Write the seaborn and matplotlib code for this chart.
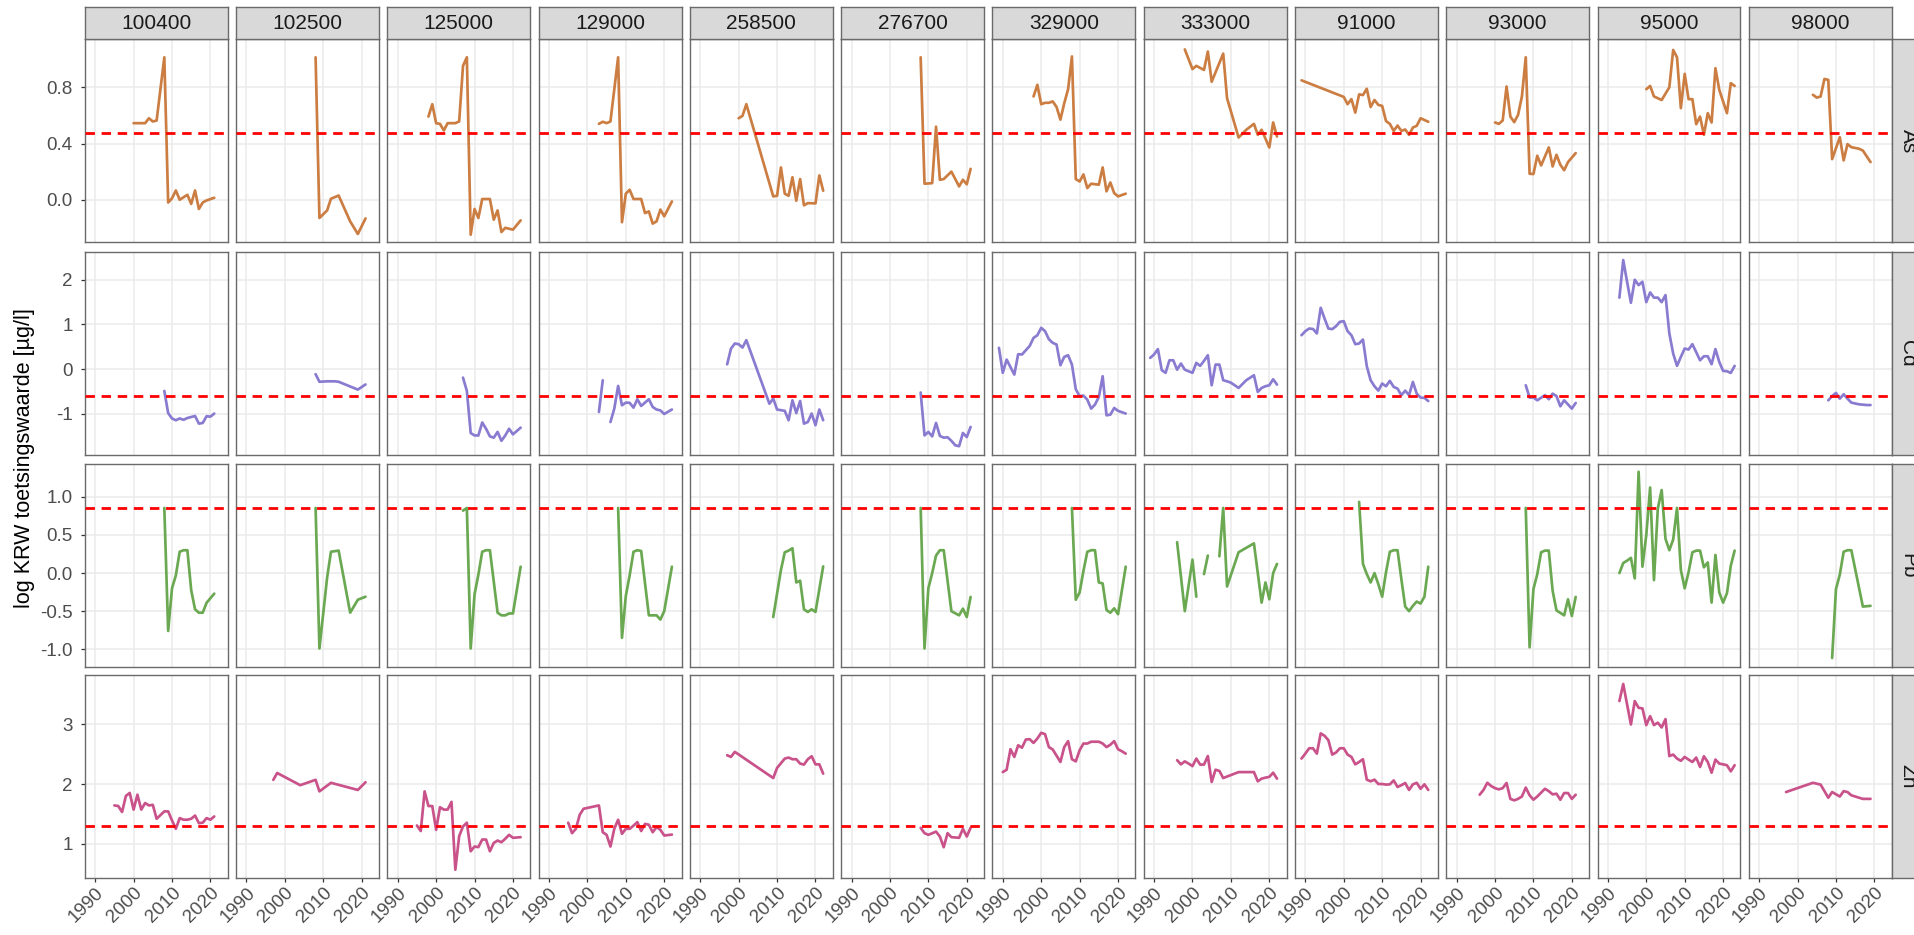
import numpy as np
import pandas as pd
import matplotlib
matplotlib.use("Agg")
import matplotlib.pyplot as plt
import seaborn as sns

nan = float("nan")

# ---- facets, norms and labels ------------------------------------------
stations = ["100400", "102500", "125000", "129000", "258500", "276700",
            "329000", "333000", "91000", "93000", "95000", "98000"]
metalen = ["As", "Cd", "Pb", "Zn"]
toetsingswaarde = [3.0, 0.25, 7.2, 20.0]          # KRW toetsingswaarde, µg/l
lijnkleuren = ["#CB7D42", "#8A7BD1", "#6BA852", "#C9528A"]
jaar_ticks = [1990, 2000, 2010, 2020]
jaar_labels = ["1990", "2000", "2010", "2020"]
y_ticks = [[0.0, 0.4, 0.8], [-1, 0, 1, 2], [-1.0, -0.5, 0.0, 0.5, 1.0], [1, 2, 3]]
y_labels = [["0.0", "0.4", "0.8"], ["-1", "0", "1", "2"],
            ["-1.0", "-0.5", "0.0", "0.5", "1.0"], ["1", "2", "3"]]
y_titel = "log KRW toetsingswaarde [µg/l]"

# ---- As (log µg/l) -------------------------------------------------------
as_100400_jr = [2000, 2001, 2002, 2003, 2004, 2005, 2006, 2008, 2009, 2010, 2011, 2012, 2014, 2015, 2016, 2017, 2018, 2019, 2021]
as_100400_log = [0.545, 0.545, 0.545, 0.545, 0.58, 0.557, 0.564, 1.014, -0.02, 0.01, 0.066, 0.0, 0.035, -0.03, 0.066, -0.066, -0.02, -0.005, 0.014]
as_102500_jr = [2008, 2009, 2011, 2012, 2014, 2017, 2019, 2021]
as_102500_log = [1.014, -0.13, -0.076, 0.007, 0.03, -0.154, -0.244, -0.133]
as_125000_jr = [1998, 1999, 2000, 2001, 2002, 2003, 2005, 2006, 2007, 2008, 2009, 2010, 2011, 2012, 2014, 2015, 2016, 2017, 2018, 2020, 2022]
as_125000_log = [0.592, 0.68, 0.545, 0.54, 0.493, 0.545, 0.545, 0.557, 0.953, 1.014, -0.249, -0.066, -0.13, 0.005, 0.005, -0.142, -0.076, -0.23, -0.2, -0.213, -0.147]
as_129000_jr = [2003, 2004, 2005, 2006, 2008, 2009, 2010, 2011, 2012, 2014, 2015, 2016, 2017, 2018, 2019, 2020, 2022]
as_129000_log = [0.54, 0.555, 0.545, 0.557, 1.014, -0.16, 0.043, 0.071, 0.005, 0.005, -0.095, -0.083, -0.17, -0.154, -0.07, -0.118, -0.012]
as_258500_jr = [2000, 2001, 2002, 2009, 2010, 2011, 2012, 2013, 2014, 2015, 2016, 2017, 2018, 2020, 2021, 2022]
as_258500_log = [0.58, 0.597, 0.68, 0.024, 0.028, 0.23, 0.043, 0.028, 0.16, -0.007, 0.147, -0.04, -0.024, -0.026, 0.173, 0.064]
as_276700_jr = [2008, 2009, 2011, 2012, 2013, 2014, 2016, 2018, 2019, 2020, 2021]
as_276700_log = [1.014, 0.114, 0.118, 0.52, 0.142, 0.147, 0.2, 0.095, 0.142, 0.11, 0.22]
as_329000_jr = [1998, 1999, 2000, 2001, 2002, 2003, 2004, 2005, 2006, 2007, 2008, 2009, 2010, 2011, 2012, 2013, 2015, 2016, 2017, 2018, 2019, 2020, 2022]
as_329000_log = [0.735, 0.818, 0.68, 0.69, 0.69, 0.7, 0.66, 0.57, 0.687, 0.787, 1.02, 0.147, 0.13, 0.18, 0.083, 0.114, 0.107, 0.23, 0.06, 0.123, 0.047, 0.024, 0.043]
as_333000_jr = [1998, 2000, 2001, 2003, 2004, 2005, 2008, 2009, 2012, 2013, 2014, 2016, 2017, 2018, 2020, 2021, 2022]
as_333000_log = [1.07, 0.93, 0.953, 0.924, 1.055, 0.84, 1.04, 0.723, 0.443, 0.47, 0.498, 0.54, 0.462, 0.498, 0.372, 0.55, 0.45]
as_91000_jr = [1989, 2000, 2001, 2002, 2003, 2004, 2005, 2006, 2007, 2008, 2009, 2010, 2011, 2012, 2013, 2014, 2015, 2016, 2017, 2018, 2019, 2020, 2022]
as_91000_log = [0.85, 0.732, 0.68, 0.716, 0.62, 0.75, 0.745, 0.79, 0.66, 0.71, 0.675, 0.668, 0.56, 0.54, 0.49, 0.528, 0.49, 0.5, 0.462, 0.514, 0.526, 0.58, 0.555]
as_93000_jr = [2000, 2001, 2002, 2003, 2004, 2005, 2006, 2007, 2008, 2009, 2010, 2011, 2012, 2014, 2015, 2016, 2017, 2018, 2019, 2021]
as_93000_log = [0.55, 0.54, 0.564, 0.806, 0.592, 0.552, 0.604, 0.735, 1.014, 0.185, 0.183, 0.313, 0.244, 0.372, 0.237, 0.32, 0.249, 0.21, 0.268, 0.332]
as_95000_jr = [2000, 2001, 2002, 2004, 2006, 2007, 2008, 2009, 2010, 2011, 2012, 2013, 2014, 2015, 2016, 2017, 2018, 2019, 2021, 2022, 2023]
as_95000_log = [0.787, 0.81, 0.735, 0.71, 0.8, 1.066, 1.014, 0.652, 0.896, 0.716, 0.716, 0.538, 0.592, 0.462, 0.616, 0.55, 0.936, 0.782, 0.616, 0.83, 0.81]
as_98000_jr = [2004, 2005, 2006, 2007, 2008, 2009, 2010, 2011, 2012, 2013, 2014, 2016, 2017, 2019]
as_98000_log = [0.747, 0.727, 0.735, 0.86, 0.853, 0.289, 0.367, 0.445, 0.28, 0.396, 0.374, 0.363, 0.35, 0.268]

# ---- Cd (log µg/l) -------------------------------------------------------
cd_100400_jr = [2008, 2009, 2010, 2011, 2012, 2013, 2014, 2016, 2017, 2018, 2019, 2020, 2021]
cd_100400_log = [-0.485, -0.98, -1.1, -1.14, -1.1, -1.13, -1.09, -1.045, -1.216, -1.2, -1.05, -1.06, -0.99]
cd_102500_jr = [2008, 2009, 2011, 2013, 2014, 2019, 2021]
cd_102500_log = [-0.11, -0.28, -0.27, -0.27, -0.28, -0.455, -0.34]
cd_125000_jr = [2007, 2008, 2009, 2010, 2011, 2012, 2013, 2014, 2015, 2016, 2017, 2018, 2019, 2020, 2022]
cd_125000_log = [-0.187, -0.485, -1.425, -1.48, -1.48, -1.19, -1.33, -1.5, -1.53, -1.4, -1.6, -1.48, -1.33, -1.455, -1.306]
cd_129000_jr = [2003, 2004, 2005, 2006, 2007, 2008, 2009, 2010, 2011, 2012, 2013, 2014, 2016, 2017, 2018, 2019, 2020, 2022]
cd_129000_log = [-0.955, -0.246, nan, -1.18, -0.88, -0.373, -0.806, -0.746, -0.75, -0.858, -0.67, -0.82, -0.67, -0.843, -0.9, -0.92, -1.0, -0.9]
cd_258500_jr = [1997, 1998, 1999, 2000, 2001, 2002, 2008, 2009, 2010, 2012, 2013, 2014, 2015, 2016, 2017, 2018, 2019, 2020, 2021, 2022]
cd_258500_log = [0.11, 0.46, 0.575, 0.56, 0.485, 0.65, -0.77, -0.657, -0.9, -0.93, -1.14, -0.694, -0.98, -0.71, -1.216, -1.18, -0.99, -1.25, -0.9, -1.14]
cd_276700_jr = [2008, 2009, 2010, 2011, 2012, 2013, 2014, 2015, 2016, 2017, 2018, 2019, 2020, 2021]
cd_276700_log = [-0.52, -1.48, -1.4, -1.5, -1.2, -1.49, -1.53, -1.52, -1.6, -1.7, -1.72, -1.425, -1.515, -1.29]
cd_329000_jr = [1989, 1990, 1991, 1993, 1994, 1995, 1996, 1997, 1998, 1999, 2000, 2001, 2002, 2003, 2004, 2005, 2006, 2007, 2008, 2009, 2010, 2011, 2012, 2013, 2014, 2015, 2016, 2017, 2018, 2019, 2020, 2022]
cd_329000_log = [0.478, -0.08, 0.216, -0.12, 0.336, 0.33, 0.425, 0.52, 0.7, 0.76, 0.925, 0.85, 0.67, 0.59, 0.552, 0.09, 0.276, 0.313, 0.104, -0.448, -0.6, -0.59, -0.68, -0.88, -0.79, -0.62, -0.157, -1.03, -1.015, -0.866, -0.93, -0.99]
cd_333000_jr = [1989, 1990, 1991, 1992, 1993, 1994, 1995, 1996, 1997, 1998, 1999, 2000, 2001, 2002, 2003, 2004, 2005, 2006, 2007, 2008, 2009, 2010, 2012, 2014, 2016, 2017, 2018, 2019, 2020, 2021, 2022]
cd_333000_log = [0.254, 0.33, 0.45, -0.02, -0.08, 0.2, 0.2, -0.01, 0.127, -0.01, -0.045, -0.08, 0.142, 0.075, 0.187, 0.313, -0.358, 0.104, 0.104, -0.246, -0.27, -0.3, -0.418, -0.246, -0.134, -0.507, -0.418, -0.38, -0.358, -0.224, -0.343]
cd_91000_jr = list(range(1989, 2023))
cd_91000_log = [0.76, 0.85, 0.91, 0.9, 0.8, 1.373, 1.134, 0.91, 0.896, 0.963, 1.06, 1.075, 0.85, 0.76, 0.56, 0.575, 0.664, 0.067, -0.246, -0.38, -0.478, -0.32, -0.38, -0.26, -0.395, -0.433, -0.58, -0.478, -0.58, -0.284, -0.545, -0.634, -0.64, -0.71]
cd_93000_jr = [2008, 2009, 2010, 2011, 2013, 2014, 2015, 2016, 2017, 2018, 2020, 2021]
cd_93000_log = [-0.358, -0.634, -0.63, -0.694, -0.58, -0.67, -0.545, -0.6, -0.828, -0.694, -0.88, -0.754]
cd_95000_jr = [1993, 1994, 1995, 1996, 1997, 1998, 1999, 2000, 2001, 2002, 2003, 2004, 2005, 2006, 2007, 2008, 2009, 2010, 2011, 2012, 2014, 2015, 2016, 2017, 2018, 2019, 2020, 2021, 2022, 2023]
cd_95000_log = [1.6, 2.44, 1.955, 1.485, 2.0, 1.88, 1.955, 1.5, 1.716, 1.6, 1.6, 1.5, 1.657, 0.8, 0.35, 0.075, 0.276, 0.463, 0.44, 0.56, 0.2, 0.29, 0.29, 0.112, 0.45, 0.164, -0.037, -0.045, -0.082, 0.075]
cd_98000_jr = [2008, 2009, 2010, 2011, 2012, 2013, 2014, 2016, 2018, 2019]
cd_98000_log = [-0.694, -0.6, -0.53, -0.657, -0.56, -0.657, -0.746, -0.784, -0.8, -0.8]

# ---- Pb (log µg/l) -------------------------------------------------------
pb_100400_jr = [2008, 2009, 2010, 2011, 2012, 2013, 2014, 2015, 2016, 2017, 2018, 2019, 2021]
pb_100400_log = [0.855, -0.76, -0.2, -0.03, 0.28, 0.3, 0.3, -0.225, -0.476, -0.52, -0.52, -0.39, -0.27]
pb_102500_jr = [2008, 2009, 2011, 2012, 2014, 2017, 2019, 2021]
pb_102500_log = [0.855, -0.99, -0.06, 0.28, 0.295, -0.52, -0.35, -0.31]
pb_125000_jr = [2007, 2008, 2009, 2010, 2011, 2012, 2013, 2014, 2016, 2017, 2018, 2019, 2020, 2022]
pb_125000_log = [0.82, 0.855, -0.99, -0.28, -0.02, 0.28, 0.3, 0.3, -0.52, -0.555, -0.555, -0.53, -0.53, 0.084]
pb_129000_jr = [2008, 2009, 2010, 2011, 2012, 2013, 2014, 2016, 2018, 2019, 2020, 2022]
pb_129000_log = [0.855, -0.85, -0.3, -0.03, 0.28, 0.3, 0.29, -0.555, -0.555, -0.61, -0.5, 0.084]
pb_258500_jr = [2009, 2011, 2012, 2013, 2014, 2015, 2016, 2017, 2018, 2019, 2020, 2022]
pb_258500_log = [-0.577, 0.04, 0.273, 0.295, 0.326, -0.123, -0.1, -0.476, -0.51, -0.476, -0.51, 0.088]
pb_276700_jr = [2008, 2009, 2010, 2011, 2012, 2013, 2014, 2016, 2018, 2019, 2020, 2021]
pb_276700_log = [0.855, -0.99, -0.2, 0.0, 0.23, 0.3, 0.3, -0.5, -0.555, -0.467, -0.577, -0.313]
pb_329000_jr = [2008, 2009, 2010, 2011, 2012, 2013, 2014, 2015, 2016, 2017, 2018, 2019, 2020, 2022]
pb_329000_log = [0.855, -0.35, -0.255, 0.03, 0.28, 0.3, 0.3, -0.123, -0.137, -0.485, -0.52, -0.463, -0.54, 0.084]
pb_333000_jr = [1996, 1998, 2000, 2001, 2002, 2003, 2004, 2005, 2007, 2008, 2009, 2012, 2016, 2018, 2019, 2020, 2021, 2022]
pb_333000_log = [0.405, -0.5, 0.176, -0.31, nan, -0.013, 0.23, nan, 0.22, 0.855, -0.176, 0.273, 0.39, -0.388, -0.123, -0.344, 0.0, 0.12]
pb_91000_jr = list(range(2004, 2023))
pb_91000_log = [0.934, 0.12, -0.013, -0.123, 0.0, -0.145, -0.31, 0.01, 0.28, 0.3, 0.3, -0.08, -0.44, -0.5, -0.43, -0.374, -0.4, -0.31, 0.084]
pb_93000_jr = [2008, 2009, 2010, 2011, 2012, 2013, 2014, 2015, 2016, 2018, 2019, 2020, 2021]
pb_93000_log = [0.855, -0.974, -0.21, -0.013, 0.273, 0.295, 0.295, -0.233, -0.49, -0.555, -0.344, -0.564, -0.313]
pb_95000_jr = list(range(1993, 2024))
pb_95000_log = [0.0, 0.132, 0.163, 0.2, -0.07, 1.33, 0.084, 0.5, 1.123, -0.093, 0.846, 1.09, 0.45, 0.3, 0.44, 0.855, 0.04, -0.2, 0.01, 0.273, 0.295, 0.295, 0.075, 0.14, -0.388, 0.238, -0.255, -0.388, -0.264, 0.097, 0.295]
pb_98000_jr = [2009, 2010, 2011, 2012, 2013, 2014, 2017, 2019]
pb_98000_log = [-1.115, -0.21, -0.02, 0.28, 0.3, 0.3, -0.44, -0.43]

# ---- Zn (log µg/l) -------------------------------------------------------
zn_100400_jr = [1995, 1996, 1997, 1998, 1999, 2000, 2001, 2002, 2003, 2004, 2005, 2006, 2008, 2009, 2010, 2011, 2012, 2013, 2014, 2015, 2016, 2017, 2018, 2019, 2020, 2021]
zn_100400_log = [1.64, 1.63, 1.53, 1.8, 1.85, 1.57, 1.82, 1.57, 1.68, 1.64, 1.65, 1.416, 1.54, 1.54, 1.388, 1.247, 1.427, 1.4, 1.4, 1.416, 1.47, 1.343, 1.35, 1.427, 1.4, 1.455]
zn_102500_jr = [1997, 1998, 2004, 2008, 2009, 2012, 2019, 2021]
zn_102500_log = [2.07, 2.185, 1.98, 2.07, 1.876, 2.02, 1.9, 2.03]
zn_125000_jr = [1995, 1996, 1997, 1998, 1999, 2000, 2001, 2002, 2003, 2004, 2005, 2006, 2007, 2008, 2009, 2010, 2011, 2012, 2013, 2014, 2015, 2016, 2017, 2018, 2019, 2020, 2022]
zn_125000_log = [1.303, 1.21, 1.876, 1.63, 1.63, 1.23, 1.61, 1.57, 1.57, 1.7, 0.56, 1.124, 1.287, 1.35, 0.87, 0.95, 0.94, 1.067, 1.067, 0.87, 1.01, 1.05, 1.022, 1.08, 1.146, 1.096, 1.107]
zn_129000_jr = [1995, 1996, 1997, 1998, 1999, 2003, 2004, 2005, 2006, 2007, 2008, 2009, 2010, 2011, 2012, 2013, 2014, 2015, 2016, 2017, 2018, 2019, 2020, 2022]
zn_129000_log = [1.35, 1.174, 1.247, 1.483, 1.584, 1.64, 1.19, 1.146, 0.95, 1.247, 1.4, 1.163, 1.247, 1.247, 1.3, 1.36, 1.21, 1.33, 1.315, 1.19, 1.275, 1.23, 1.135, 1.15]
zn_258500_jr = [1997, 1998, 1999, 2009, 2010, 2012, 2013, 2014, 2015, 2016, 2017, 2018, 2019, 2020, 2021, 2022]
zn_258500_log = [2.483, 2.455, 2.54, 2.1, 2.27, 2.427, 2.444, 2.416, 2.416, 2.343, 2.326, 2.416, 2.466, 2.33, 2.33, 2.174]
zn_276700_jr = [2008, 2009, 2010, 2012, 2013, 2014, 2015, 2016, 2018, 2019, 2020, 2021]
zn_276700_log = [1.264, 1.174, 1.146, 1.2, 1.118, 0.938, 1.174, 1.107, 1.096, 1.247, 1.118, 1.264]
zn_329000_jr = [1990, 1991, 1992, 1993, 1994, 1995, 1996, 1997, 1998, 1999, 2000, 2001, 2002, 2003, 2005, 2006, 2007, 2008, 2009, 2010, 2011, 2012, 2013, 2015, 2016, 2017, 2018, 2019, 2020, 2021, 2022]
zn_329000_log = [2.2, 2.24, 2.584, 2.455, 2.65, 2.61, 2.747, 2.753, 2.69, 2.764, 2.86, 2.837, 2.62, 2.58, 2.37, 2.62, 2.72, 2.416, 2.38, 2.567, 2.68, 2.68, 2.71, 2.71, 2.68, 2.62, 2.66, 2.72, 2.584, 2.55, 2.51]
zn_333000_jr = [1996, 1997, 1998, 1999, 2000, 2001, 2002, 2003, 2004, 2005, 2006, 2007, 2008, 2012, 2016, 2017, 2018, 2019, 2020, 2021, 2022]
zn_333000_log = [2.4, 2.33, 2.38, 2.343, 2.3, 2.427, 2.326, 2.326, 2.47, 2.034, 2.24, 2.22, 2.1, 2.2, 2.2, 2.045, 2.09, 2.107, 2.12, 2.19, 2.09]
zn_91000_jr = list(range(1989, 2023))
zn_91000_log = [2.427, 2.51, 2.6, 2.6, 2.51, 2.85, 2.81, 2.736, 2.494, 2.53, 2.6, 2.6, 2.494, 2.455, 2.33, 2.37, 2.416, 2.073, 2.045, 2.073, 2.0, 2.0, 1.99, 1.994, 2.06, 1.95, 1.98, 2.017, 1.9, 1.994, 2.02, 1.92, 1.994, 1.9]
zn_93000_jr = [1996, 1997, 1998, 1999, 2000, 2001, 2002, 2003, 2004, 2005, 2006, 2007, 2008, 2009, 2010, 2011, 2013, 2014, 2015, 2016, 2017, 2018, 2019, 2020, 2021]
zn_93000_log = [1.82, 1.9, 2.02, 1.966, 1.93, 1.91, 1.93, 2.017, 1.75, 1.725, 1.75, 1.79, 1.94, 1.81, 1.736, 1.79, 1.92, 1.88, 1.826, 1.837, 1.736, 1.848, 1.848, 1.75, 1.82]
zn_95000_jr = list(range(1993, 2024))
zn_95000_log = [3.393, 3.68, 3.337, 3.0, 3.393, 3.28, 3.27, 2.99, 3.14, 2.99, 3.03, 2.95, 3.09, 2.47, 2.494, 2.427, 2.39, 2.455, 2.41, 2.37, 2.444, 2.286, 2.466, 2.37, 2.19, 2.41, 2.343, 2.33, 2.315, 2.213, 2.315]
zn_98000_jr = [1997, 2004, 2006, 2008, 2009, 2011, 2012, 2013, 2014, 2016, 2017, 2019]
zn_98000_log = [1.865, 2.02, 1.99, 1.77, 1.865, 1.79, 1.88, 1.865, 1.81, 1.77, 1.75, 1.75]


# ---- long table; a missing value splits a series into separate segments --
records = []
for metaal in metalen:
    for station in stations:
        jaren = globals()[f"{metaal.lower()}_{station}_jr"]
        waarden = globals()[f"{metaal.lower()}_{station}_log"]
        segment = 0
        for jaar, waarde in zip(jaren, waarden):
            if np.isnan(waarde):
                segment += 1
                continue
            records.append((metaal, station, jaar, waarde, segment))
df = pd.DataFrame(records, columns=["metaal", "station", "jaar", "waarde", "segment"])

# ---- layout (pixels on a 1914 x 935 canvas) ------------------------------
sns.set_theme(style="white")
plt.rcParams["font.family"] = ["Liberation Sans", "DejaVu Sans"]

W, H = 1914, 935
fig = plt.figure(figsize=(W / 100, H / 100), dpi=100)
fig.patch.set_facecolor("white")

left0, pitch, pw = 84.8, 151.27, 142.9
row_tops = [39.3, 251.7, 464.0, 675.0]
ph = 203.0
strip = 32.6
xlim = (1987.3, 2024.5)
ylims = [(-0.303, 1.142), (-1.91, 2.627), (-1.233, 1.432), (0.421, 3.831)]

rand = "#6A6A6A"
strip_fill = "#D9D9D9"


def px_axes(x, y, w, h):
    return fig.add_axes([x / W, 1 - (y + h) / H, w / W, h / H])


for r, metaal in enumerate(metalen):
    norm = np.log10(toetsingswaarde[r])
    for c, station in enumerate(stations):
        x0 = left0 + c * pitch
        ax = px_axes(x0, row_tops[r], pw, ph)
        ax.set_facecolor("white")
        ax.set_axisbelow(True)
        ax.grid(True, color="#EBEBEB", linewidth=1.1)
        sub = df[(df["metaal"] == metaal) & (df["station"] == station)]
        if len(sub):
            sns.lineplot(data=sub, x="jaar", y="waarde", units="segment",
                         estimator=None, color=lijnkleuren[r], linewidth=1.95,
                         ax=ax, legend=False)
        ax.axhline(norm, color="#FF0000", linewidth=2.0,
                   linestyle=(0, (3.4, 2.4)), zorder=4)
        ax.set_xlim(*xlim)
        ax.set_ylim(*ylims[r])
        ax.set_xticks(jaar_ticks)
        ax.set_yticks(y_ticks[r])
        ax.set_xlabel("")
        ax.set_ylabel("")
        for sp in ax.spines.values():
            sp.set_color(rand)
            sp.set_linewidth(1.0)
        ax.tick_params(axis="both", which="major", length=3.2, width=0.9,
                       color="#333333", labelcolor="#4D4D4D",
                       direction="out")
        ax.tick_params(axis="y", pad=5.5, labelsize=13.5,
                       left=(c == 0), labelleft=(c == 0))
        ax.tick_params(axis="x", pad=1.5, labelsize=13.5,
                       bottom=(r == 3), labelbottom=(r == 3))
        if c == 0:
            ax.set_yticklabels(y_labels[r])
        if r == 3:
            ax.set_xticklabels(jaar_labels, rotation=45, ha="right", va="top",
                               rotation_mode="anchor")

        # column strip on top
        if r == 0:
            sax = px_axes(x0, row_tops[0] - strip, pw, strip)
            sax.set_facecolor(strip_fill)
            sax.set_xticks([])
            sax.set_yticks([])
            for sp in sax.spines.values():
                sp.set_color(rand)
                sp.set_linewidth(1.0)
            sax.text(0.5, 0.48, station, ha="center", va="center",
                     fontsize=15, color="#1A1A1A", transform=sax.transAxes)

    # row strip on the right
    rax = px_axes(left0 + 11 * pitch + pw, row_tops[r], strip, ph)
    rax.set_facecolor(strip_fill)
    rax.set_xticks([])
    rax.set_yticks([])
    for sp in rax.spines.values():
        sp.set_color(rand)
        sp.set_linewidth(1.0)
    rax.text(0.5, 0.5, metaal, ha="center", va="center", rotation=270,
             fontsize=15, color="#1A1A1A", transform=rax.transAxes)

fig.text(25 / W, 1 - 458.3 / H, y_titel, rotation=90, ha="center",
         va="center", fontsize=15.5, color="black")

fig.savefig("out.png", dpi=100, facecolor="white")
